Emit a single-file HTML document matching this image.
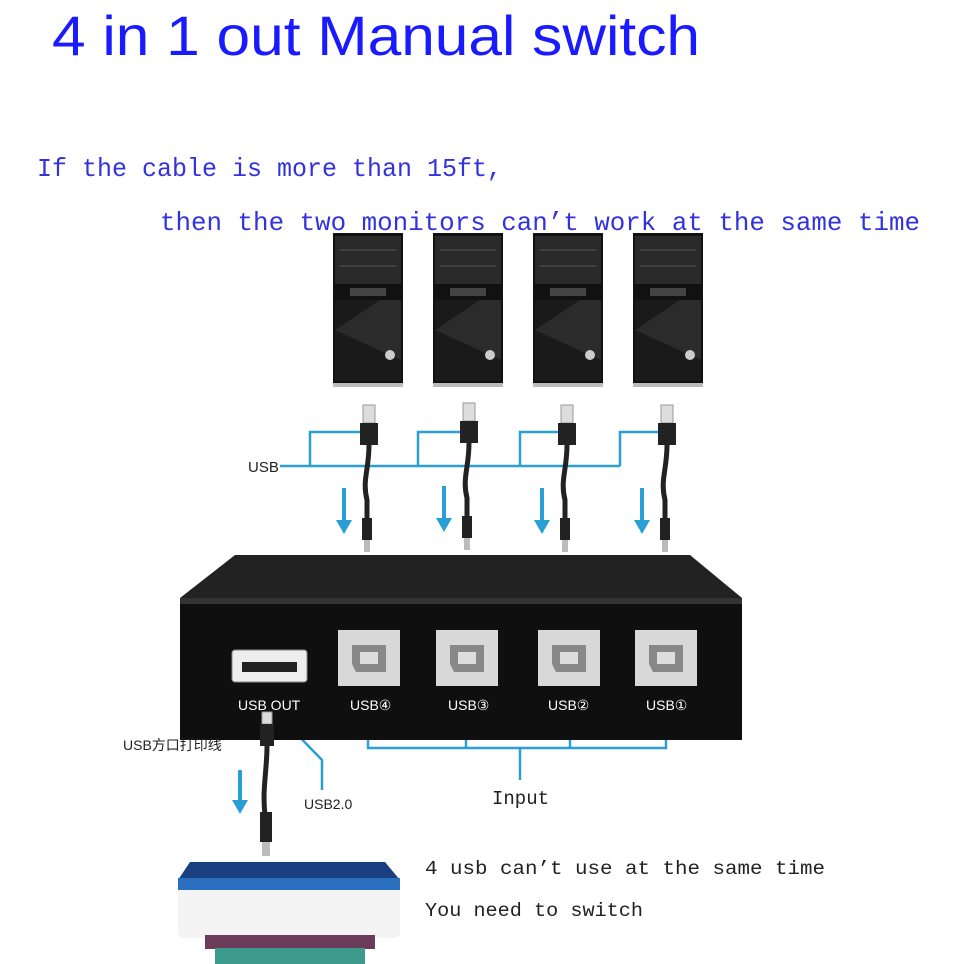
<!DOCTYPE html>
<html><head><meta charset="utf-8"><style>
body{margin:0;background:#fff;width:964px;height:964px;overflow:hidden}
svg{display:block}
</style></head><body>
<svg width="964" height="964" viewBox="0 0 964 964" xmlns="http://www.w3.org/2000/svg">
<text x="52" y="55" font-family="Liberation Sans, sans-serif" font-size="56" fill="#1a1aff" textLength="648" lengthAdjust="spacingAndGlyphs">4 in 1 out Manual switch</text>
<text x="37" y="176" font-family="Liberation Mono, monospace" font-size="26" fill="#3333dd" textLength="465" lengthAdjust="spacingAndGlyphs">If the cable is more than 15ft,</text>
<text x="160" y="230" font-family="Liberation Mono, monospace" font-size="26" fill="#3333dd" textLength="760" lengthAdjust="spacingAndGlyphs">then the two monitors can’t work at the same time</text>
<!-- towers -->
<g id="t">
<rect x="333" y="233" width="70" height="150" fill="#111"/>
<rect x="335" y="236" width="66" height="48" fill="#2a2a2a"/>
<line x1="340" y1="250" x2="396" y2="250" stroke="#555"/>
<line x1="340" y1="266" x2="396" y2="266" stroke="#555"/>
<rect x="350" y="288" width="36" height="8" fill="#444"/>
<polygon points="335,300 401,300 401,381 335,381" fill="#1a1a1a"/>
<polygon points="335,330 380,300 401,300 401,360" fill="#2b2b2b"/>
<circle cx="390" cy="355" r="5" fill="#ccc"/>
<rect x="333" y="383" width="70" height="4" fill="#bbb"/>
</g>
<use href="#t" x="100"/><use href="#t" x="200"/><use href="#t" x="300"/>
<g stroke="#2a9fd6" stroke-width="2.5" fill="none">
<path d="M280 466 H620 M310 466 V432 H368 M418 466 V432 H468 M520 466 V432 H566 M620 466 V432 H666"/>
<path d="M368 730 V748 H666 V730 M466 730 V748 M570 730 V748 M520 748 V780"/>
<path d="M290 727 L322 760 V790"/>
</g>
<text x="248" y="472" font-family="Liberation Sans, sans-serif" font-size="15" fill="#222">USB</text>
<g id="c">
<rect x="363" y="405" width="12" height="18" fill="#ddd" stroke="#999"/>
<rect x="360" y="423" width="18" height="22" fill="#222"/>
<path d="M369 445 C369 470 362 480 367 500 V520" stroke="#222" stroke-width="5" fill="none"/>
<rect x="362" y="518" width="10" height="22" fill="#222"/>
<rect x="364" y="540" width="6" height="12" fill="#bbb"/>
<path d="M344 488 V525" stroke="#2a9fd6" stroke-width="4"/>
<polygon points="336,520 352,520 344,534" fill="#2a9fd6"/>
</g>
<use href="#c" x="100" y="-2"/><use href="#c" x="198"/><use href="#c" x="298"/>
<polygon points="235,555 690,555 742,598 180,598" fill="#222"/>
<rect x="180" y="598" width="562" height="142" fill="#0f0f0f"/>
<rect x="180" y="598" width="562" height="6" fill="#333"/>
<rect x="232" y="650" width="75" height="32" rx="3" fill="#eee" stroke="#888"/>
<rect x="242" y="662" width="55" height="10" fill="#222"/>
<g id="p"><rect x="338" y="630" width="62" height="56" fill="#d8d8d8"/><path d="M352 645 H386 V672 H356 L352 664 Z" fill="#888"/><rect x="360" y="652" width="18" height="12" fill="#ddd"/></g>
<use href="#p" x="98"/><use href="#p" x="200"/><use href="#p" x="297"/>
<g font-family="Liberation Sans, sans-serif" font-size="14" fill="#fff">
<text x="238" y="710">USB  OUT</text><text x="350" y="710">USB④</text><text x="448" y="710">USB③</text><text x="548" y="710">USB②</text><text x="646" y="710">USB①</text>
</g>
<text x="492" y="804" font-family="Liberation Mono, monospace" font-size="19" fill="#222">Input</text>
<text x="123" y="750" font-family="Liberation Sans, Noto Sans CJK SC, sans-serif" font-size="14" fill="#222">USB方口打印线</text>
<text x="304" y="809" font-family="Liberation Sans, sans-serif" font-size="14" fill="#222">USB2.0</text>
<rect x="262" y="712" width="10" height="12" fill="#ddd" stroke="#999"/>
<rect x="260" y="724" width="14" height="22" fill="#222"/>
<path d="M267 746 C267 770 262 790 265 815" stroke="#222" stroke-width="5" fill="none"/>
<rect x="260" y="812" width="12" height="30" fill="#222"/>
<rect x="262" y="842" width="8" height="14" fill="#bbb"/>
<path d="M240 770 V805" stroke="#2a9fd6" stroke-width="4"/>
<polygon points="232,800 248,800 240,814" fill="#2a9fd6"/>
<polygon points="190,862 385,862 400,880 178,880" fill="#1a3f80"/>
<rect x="178" y="878" width="222" height="60" rx="6" fill="#f4f4f4"/>
<rect x="178" y="878" width="222" height="12" fill="#2a6fc0"/>
<rect x="205" y="935" width="170" height="14" fill="#6b3b5a"/>
<rect x="215" y="948" width="150" height="16" fill="#3b9a8a"/>
<text x="425" y="874" font-family="Liberation Mono, monospace" font-size="19" fill="#222" textLength="400" lengthAdjust="spacingAndGlyphs">4 usb can’t use at the same time</text>
<text x="425" y="916" font-family="Liberation Mono, monospace" font-size="19" fill="#222" textLength="218" lengthAdjust="spacingAndGlyphs">You need to switch</text>
</svg>
</body></html>
